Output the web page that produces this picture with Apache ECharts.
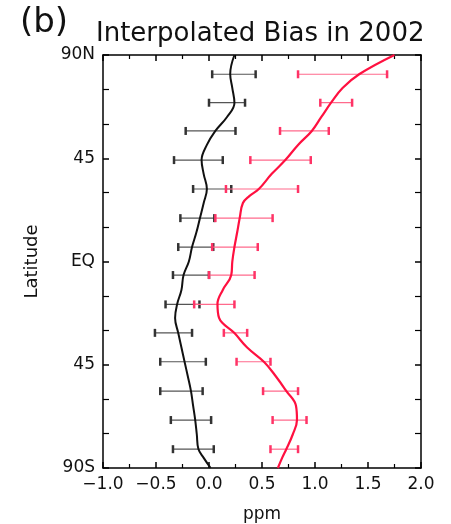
<!doctype html>
<html>
<head>
<meta charset="UTF-8">
<title>Interpolated Bias in 2002</title>
<script src="https://cdn.jsdelivr.net/npm/echarts@6/dist/echarts.min.js"></script>
<style>
	html, body { margin: 0; padding: 0; background: #fff; }
	#chart { width: 451px; height: 524px; }
</style>
</head>
<body>
<div id="chart"></div>
<script type="text/javascript">
// latitude of each error bar
var barLats = [81.6, 69.2, 56.9, 44.2, 31.6, 18.9, 6.3, -5.9, -18.7, -31.1, -43.7, -56.5, -69.1, -81.8];
// black error bars (ppm)
var blackLo = [0.03, 0.0, -0.22, -0.33, -0.15, -0.27, -0.29, -0.34, -0.41, -0.51, -0.46, -0.46, -0.36, -0.34];
var blackHi = [0.44, 0.34, 0.25, 0.13, 0.21, 0.05, 0.04, 0.0, -0.09, -0.16, -0.03, -0.06, 0.02, 0.045];
// red error bars (ppm)
var redLo = [0.84, 1.05, 0.67, 0.39, 0.16, 0.06, 0.03, 0.0, -0.14, 0.14, 0.26, 0.51, 0.60, 0.58];
var redHi = [1.68, 1.35, 1.13, 0.96, 0.84, 0.60, 0.46, 0.43, 0.24, 0.36, 0.58, 0.84, 0.92, 0.84];

// curves
var blackLat = [90, 81.7, 75.6, 69.1, 63, 56.9, 50.8, 44.2, 38.1, 31.6, 25.5, 19, 12.5, 6.3, 0, -5.9, -12.4, -18.5, -24.6, -31.2, -37.5, -43.8, -50, -56.5, -62.8, -69.1, -75.4, -81.7, -85.6, -90];
var blackVal = [0.24, 0.20, 0.22, 0.24, 0.17, 0.06, -0.02, -0.07, -0.05, -0.02, -0.05, -0.085, -0.12, -0.16, -0.19, -0.24, -0.26, -0.30, -0.32, -0.29, -0.26, -0.23, -0.20, -0.17, -0.15, -0.13, -0.115, -0.10, -0.05, 0.015];
var redLat = [90, 81.7, 75.6, 69.1, 63, 56.9, 50.8, 44.2, 38.1, 31.6, 28.5, 25.5, 19, 12.5, 6.3, 0, -5.9, -12.4, -18.5, -24.6, -31.2, -37.5, -43.8, -50, -56.5, -62.8, -69.1, -75.4, -81.7, -85.6, -90];
var redVal = [1.75, 1.42, 1.26, 1.15, 1.06, 0.97, 0.84, 0.72, 0.59, 0.47, 0.38, 0.32, 0.29, 0.265, 0.24, 0.22, 0.21, 0.13, 0.08, 0.095, 0.24, 0.36, 0.52, 0.63, 0.73, 0.82, 0.83, 0.79, 0.73, 0.69, 0.65];

// axis labels
var latLabels = {'90': '90N', '45': '45', '0': 'EQ', '-45': '45', '-90': '90S'};

var FONT = 'DejaVu Sans';

function pairs(xs, ys) {
	var out = [];
	for (var i = 0; i < xs.length; i++) out.push([xs[i], ys[i]]);
	return out;
}
function bars(lo, hi) {
	var out = [];
	for (var i = 0; i < barLats.length; i++) out.push([lo[i], hi[i], barLats[i]]);
	return out;
}

function errorBar(color, capColor) {
	return function(params, api) {
		var a = api.coord([api.value(0), api.value(2)]);
		var b = api.coord([api.value(1), api.value(2)]);
		var h = 4;
		return {
			type: 'group',
			children: [{
				type: 'line',
				shape: {x1: a[0], y1: a[1], x2: b[0], y2: b[1]},
				style: {stroke: color, lineWidth: 1.2}
			}, {
				type: 'line',
				shape: {x1: a[0], y1: a[1] - h, x2: a[0], y2: a[1] + h},
				style: {stroke: capColor, lineWidth: 2.5}
			}, {
				type: 'line',
				shape: {x1: b[0], y1: b[1] - h, x2: b[0], y2: b[1] + h},
				style: {stroke: capColor, lineWidth: 2.5}
			}]
		};
	};
}

var xBase = {
	type: 'value', min: -1, max: 2, interval: 0.5,
	axisLine: {onZero: false, lineStyle: {color: '#000', width: 1.5}},
	axisTick: {inside: true, length: 6, lineStyle: {color: '#000', width: 1.5}},
	minorTick: {show: true, splitNumber: 2, length: 4, lineStyle: {color: '#000', width: 1.2}},
	splitLine: {show: false}
};
var yBase = {
	type: 'value', min: -90, max: 90, interval: 45,
	axisLine: {onZero: false, lineStyle: {color: '#000', width: 1.5}},
	axisTick: {inside: true, length: 6, lineStyle: {color: '#000', width: 1.5}},
	minorTick: {show: true, splitNumber: 3, length: 6, lineStyle: {color: '#000', width: 1.2}},
	splitLine: {show: false}
};

var chart = echarts.init(document.getElementById('chart'));
chart.setOption({
	backgroundColor: '#fff',
	animation: false,
	grid: {left: 103, right: 30, top: 55, bottom: 56, outerBoundsMode: 'none'},
	graphic: [{
		type: 'text', left: 20, top: 6,
		style: {text: '(b)', font: '34px "' + FONT + '"', fill: '#111'}
	}, {
		type: 'text', left: 96, top: 21,
		style: {text: 'Interpolated Bias in 2002', font: '26px "' + FONT + '"', fill: '#111'}
	}],
	xAxis: [
		echarts.util.merge({
			position: 'bottom',
			name: 'ppm', nameLocation: 'middle', nameGap: 38,
			nameTextStyle: {fontFamily: FONT, fontSize: 17, color: '#111'},
			axisLabel: {
				margin: 8, color: '#111', fontFamily: FONT, fontSize: 17,
				formatter: function(v) { return v.toFixed(1).replace('-', '\u2212'); }
			}
		}, xBase, true),
		echarts.util.merge({position: 'top', axisLabel: {show: false}}, xBase, true)
	],
	yAxis: [
		echarts.util.merge({
			position: 'left',
			name: 'Latitude', nameLocation: 'middle', nameGap: 62, nameRotate: 90,
			nameTextStyle: {fontFamily: FONT, fontSize: 18, color: '#111'},
			axisLabel: {
				margin: 8, color: '#111', fontFamily: FONT, fontSize: 17,
				formatter: function(v) { return latLabels[String(v)] || ''; }
			}
		}, yBase, true),
		echarts.util.merge({position: 'right', axisLabel: {show: false}}, yBase, true)
	],
	series: [{
		type: 'custom',
		renderItem: errorBar('#555', '#333'),
		data: bars(blackLo, blackHi),
		z: 2
	}, {
		type: 'custom',
		renderItem: errorBar('#ff6a8c', '#ff3366'),
		data: bars(redLo, redHi),
		z: 2
	}, {
		type: 'line',
		data: pairs(blackVal, blackLat),
		smooth: 0.4,
		showSymbol: false,
		lineStyle: {color: '#111', width: 2},
		z: 3
	}, {
		type: 'line',
		data: pairs(redVal, redLat),
		smooth: 0.4,
		showSymbol: false,
		lineStyle: {color: '#ff1040', width: 2.2},
		z: 3
	}]
});
</script>
</body>
</html>
